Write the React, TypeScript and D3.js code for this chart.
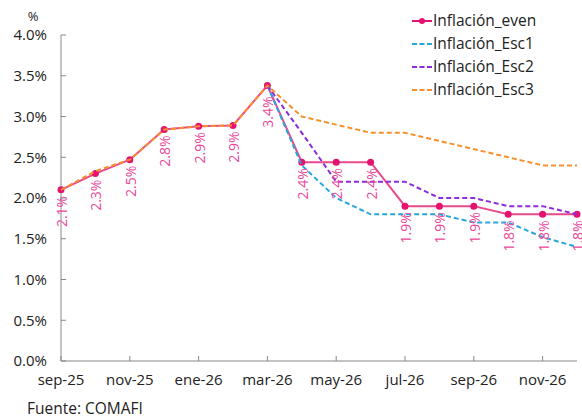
import React from "react";
import * as d3 from "d3";

const months = ["sep-25","oct-25","nov-25","dic-25","ene-26","feb-26","mar-26","abr-26","may-26","jun-26","jul-26","ago-26","sep-26","oct-26","nov-26","dic-26"];
const tickMonths = ["sep-25","nov-25","ene-26","mar-26","may-26","jul-26","sep-26","nov-26"];
const yTicks = [0,0.5,1.0,1.5,2.0,2.5,3.0,3.5,4.0];

const inflEven = [2.1,2.3,2.47,2.84,2.88,2.89,3.38,2.44,2.44,2.44,1.9,1.9,1.9,1.8,1.8,1.8];
const evenLabels = ["2.1%","2.3%","2.5%","2.8%","2.9%","2.9%","3.4%","2.4%","2.4%","2.4%","1.9%","1.9%","1.9%","1.8%","1.8%","1.8%"];
const inflEsc1 = [null,null,null,null,null,null,3.38,2.4,2.0,1.8,1.8,1.8,1.7,1.7,1.52,1.4];
const inflEsc2 = [null,null,null,null,null,null,3.38,2.8,2.2,2.2,2.2,2.0,2.0,1.9,1.9,1.8];
const inflEsc3 = [2.1,2.33,2.47,2.84,2.88,2.89,3.38,3.0,2.9,2.8,2.8,2.7,2.6,2.5,2.4,2.4];

const seriesNames = ["Inflación_even","Inflación_Esc1","Inflación_Esc2","Inflación_Esc3"];
const seriesColors = ["#E5126F","#26A6DC","#8B2BD9","#F7902A"];

const FONT = "'Open Sans', sans-serif";

export default function App() {
  const W = 582, H = 420;
  const x = d3.scalePoint<string>().domain(months).range([61, 577]);
  const y = d3.scaleLinear().domain([0, 4]).range([361, 35]);
  const line = d3.line<number | null>()
    .defined(d => d !== null)
    .x((_, i) => x(months[i]) as number)
    .y(d => y(d as number));

  const dashed = [inflEsc1, inflEsc2, inflEsc3];

  return (
    <svg width={W} height={H} style={{ position: "absolute", left: 0, top: 0, background: "#fff" }} fontFamily={FONT}>
      <rect width={W} height={H} fill="#fff" />
      {/* axes */}
      <line x1={61} x2={61} y1={y(4)} y2={y(0)} stroke="#888" strokeWidth={1} />
      <line x1={61} x2={577} y1={y(0)} y2={y(0)} stroke="#888" strokeWidth={1} />
      {yTicks.map(t => (
        <g key={t}>
          <line x1={61} x2={66} y1={y(t)} y2={y(t)} stroke="#888" />
          <text x={47} y={y(t)} dy="0.35em" textAnchor="end" fontSize={15} fill="#222">{t.toFixed(1) + "%"}</text>
        </g>
      ))}
      {tickMonths.map(m => (
        <g key={m}>
          <line x1={x(m)} x2={x(m)} y1={y(0)} y2={y(0) - 5} stroke="#888" />
          <text x={x(m)} y={385} textAnchor="middle" fontSize={15} fill="#222">{m}</text>
        </g>
      ))}
      <text x={33} y={21} textAnchor="middle" fontSize={13} fill="#222">%</text>

      {/* even series */}
      <path d={line(inflEven) || ""} fill="none" stroke="#E84A8C" strokeWidth={2} />
      {inflEven.map((v, i) => (
        <circle key={i} cx={x(months[i])} cy={y(v)} r={3.5} fill={seriesColors[0]} />
      ))}
      {dashed.map((s, k) => (
        <path key={k} d={line(s) || ""} fill="none" stroke={seriesColors[k + 1]} strokeWidth={2} strokeDasharray="5,3" />
      ))}
      {inflEven.map((v, i) => {
        const cx = (x(months[i]) as number) + 1;
        const cy = y(v) + (i === 6 ? 11 : 6);
        return (
          <text key={i} transform={`translate(${cx},${cy}) rotate(-90)`} textAnchor="end" dy="0.35em" fontSize={14} fill="#E8489A">{evenLabels[i]}</text>
        );
      })}

      {/* legend */}
      {seriesNames.map((n, i) => {
        const ly = 21 + i * 23;
        return (
          <g key={n}>
            <line x1={412} x2={432} y1={ly} y2={ly} stroke={seriesColors[i]} strokeWidth={2} strokeDasharray={i === 0 ? undefined : "5,2.5"} />
            {i === 0 && <circle cx={422} cy={ly} r={3} fill={seriesColors[0]} />}
            <text x={433} y={ly} dy="0.35em" fontSize={15.5} fill="#222">{n}</text>
          </g>
        );
      })}

      <text x={27} y={414} fontSize={15.5} fill="#222">Fuente: COMAFI</text>
    </svg>
  );
}
